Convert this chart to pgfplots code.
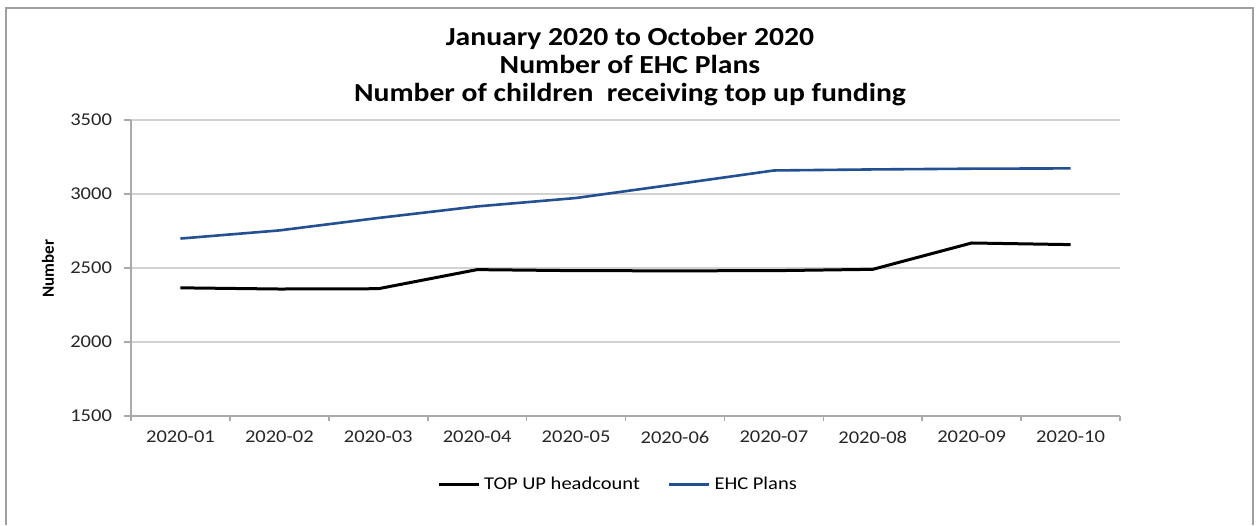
\documentclass[border=0pt]{standalone}
\usepackage{fontspec}
\setmainfont{Carlito}[FakeStretch=1.14]
\newfontfamily\ylabfont{Carlito}
\usepackage{pgfplots}
\pgfplotsset{compat=1.18}
\definecolor{ehcblue}{RGB}{35,80,145}
\definecolor{axgray}{RGB}{170,170,170}
\definecolor{gridgray}{RGB}{210,210,210}
\begin{document}
\begin{tikzpicture}
\useasboundingbox (0,0) rectangle (628pt,262.5pt);
\draw[gray!75, line width=1pt] (3pt,0pt) -- (3pt,258.5pt) -- (626.5pt,258.5pt) -- (626.5pt,0pt);
\node[align=center, font=\bfseries\fontsize{13}{14}\selectfont] at (315pt,229pt)
  {January 2020 to October 2020\\Number of EHC Plans\\Number of children\ \ receiving top up funding};
\node[rotate=90, font=\ylabfont\bfseries\fontsize{8.5}{10}\selectfont] at (24pt,128.25pt) {Number};
\begin{axis}[
  at={(65.5pt,54.5pt)}, anchor=south west,
  scale only axis, width=494.5pt, height=148pt,
  xmin=-0.5, xmax=9.5, ymin=1500, ymax=3500,
  ytick={1500,2000,2500,3000,3500},
  xtick={0,...,9},
  xticklabels={2020-01,2020-02,2020-03,2020-04,2020-05,2020-06,2020-07,2020-08,2020-09,2020-10},
  minor xtick={-0.5,0.5,...,9.5},
  axis x line*=bottom, axis y line*=left,
  axis line style={axgray, line width=0.8pt},
  ymajorgrids, grid style={gridgray, line width=0.8pt},
  tick align=outside,
  major tick length=3.5pt, minor tick length=2.5pt,
  major x tick style={draw=none},
  minor x tick style={axgray, line width=0.8pt},
  major y tick style={axgray, line width=0.8pt},
  ticklabel style={font=\fontsize{9}{10}\selectfont, text=black!85},
  yticklabel style={xshift=-2.5pt},
  xticklabel style={yshift=-0.5pt},
  /pgf/number format/assume math mode=true,
  /pgf/number format/1000 sep={},
  legend columns=2,
  legend style={draw=none, at={(0.4934,-0.232)}, anchor=center,
    font=\fontsize{9}{10}\selectfont, inner sep=0pt,
    /tikz/every even column/.append style={column sep=12pt}},
  legend image code/.code={\draw[#1] (0pt,0pt) -- (20pt,0pt);},
]
\addplot[black, line width=1.5pt] coordinates {
(0,2366) (1,2358) (2,2360) (3,2489) (4,2482) (5,2481) (6,2482) (7,2491) (8,2669) (9,2658)};
\addlegendentry{TOP UP headcount}
\addplot[ehcblue, line width=1.3pt] coordinates {
(0,2699) (1,2754) (2,2838) (3,2916) (4,2973) (5,3065) (6,3159) (7,3166) (8,3171) (9,3173)};
\addlegendentry{EHC Plans}
\end{axis}
\end{tikzpicture}
\end{document}
